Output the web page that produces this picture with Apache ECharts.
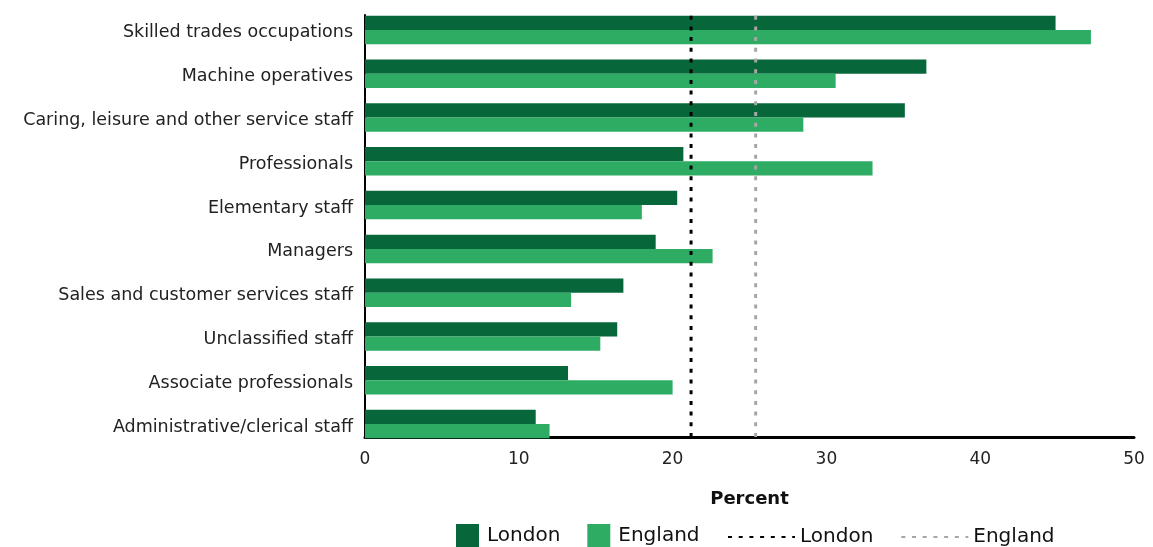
<!DOCTYPE html>
<html>
<head>
<meta charset="utf-8">
<script src="https://cdn.jsdelivr.net/npm/echarts@6/dist/echarts.min.js"></script>
<style>
html,body{margin:0;padding:0;background:#fff;}
#main{width:1153px;height:547px;}
</style>
</head>
<body>
<div id="main"></div>
<script>
const categories = [
  'Skilled trades occupations',
  'Machine operatives',
  'Caring, leisure and other service staff',
  'Professionals',
  'Elementary staff',
  'Managers',
  'Sales and customer services staff',
  'Unclassified staff',
  'Associate professionals',
  'Administrative/clerical staff'
];
const londonValues  = [44.9, 36.5, 35.1, 20.7, 20.3, 18.9, 16.8, 16.4, 13.2, 11.1];
const englandValues = [47.2, 30.6, 28.5, 33.0, 18.0, 22.6, 13.4, 15.3, 20.0, 12.0];
const londonAverage = 21.2;
const englandAverage = 25.4;
const xTicks = [0, 10, 20, 30, 40, 50];

const FONT = 'DejaVu Sans';
const DARK = '#07673a';
const LIGHT = '#2fac63';

const chart = echarts.init(document.getElementById('main'));
chart.setOption({
  animation: false,
  textStyle: { fontFamily: FONT },
  grid: [
    { left: 365, right: 19, top: 8, height: 438 },
    { left: 365, right: 19, top: 15, height: 422 }
  ],
  xAxis: [
    { gridIndex: 0, type: 'value', min: xTicks[0], max: xTicks[xTicks.length - 1], show: false },
    { gridIndex: 1, type: 'value', min: xTicks[0], max: xTicks[xTicks.length - 1], interval: 10,
      axisLine: { show: true, lineStyle: { color: '#000', width: 3 } },
      axisTick: { show: false },
      splitLine: { show: false },
      axisLabel: { fontSize: 17, color: '#222', margin: 14, fontFamily: FONT },
      name: 'Percent', nameLocation: 'middle', nameGap: 53,
      nameTextStyle: { fontSize: 18, fontWeight: 'bold', color: '#111', fontFamily: FONT }
    }
  ],
  yAxis: [
    { gridIndex: 0, type: 'category', data: categories, inverse: true,
      axisLine: { show: false }, axisTick: { show: false },
      axisLabel: {
        margin: 12,
        formatter: v => '{c|' + v + '}',
        rich: { c: { fontSize: 17.5, color: '#222', fontFamily: FONT, padding: [6, 0, 0, 0] } }
      }
    },
    { gridIndex: 1, type: 'value', min: 0, max: 1,
      axisLine: { show: true, lineStyle: { color: '#000', width: 2 } },
      axisTick: { show: false }, axisLabel: { show: false }, splitLine: { show: false }
    }
  ],
  legend: [
    { left: 456, top: 524, padding: 0, itemWidth: 23, itemHeight: 23, itemGap: 27, icon: 'rect',
      data: ['London', 'England'],
      textStyle: { fontSize: 20, color: '#111', fontFamily: FONT, padding: [0, 0, 0, 3] }
    },
    { left: 727, top: 527, padding: 0, itemWidth: 67, itemHeight: 23, itemGap: 27,
      data: ['London average', 'England average'],
      formatter: n => n.replace(' average', ''),
      itemStyle: { color: 'rgba(0,0,0,0)', opacity: 0, borderWidth: 0 },
      textStyle: { fontSize: 20, color: '#111', fontFamily: FONT }
    }
  ],
  series: [
    { name: 'London', type: 'bar', xAxisIndex: 0, yAxisIndex: 0, data: londonValues,
      itemStyle: { color: DARK }, barGap: '0%', barCategoryGap: '35%' },
    { name: 'England', type: 'bar', xAxisIndex: 0, yAxisIndex: 0, data: englandValues,
      itemStyle: { color: LIGHT }, barGap: '0%', barCategoryGap: '35%' },
    { name: 'London average', type: 'line', xAxisIndex: 1, yAxisIndex: 1,
      data: [[londonAverage, 0], [londonAverage, 1]], symbol: 'none', z: 5,
      lineStyle: { color: '#000', width: 3, type: [4, 6.7] }, itemStyle: { color: '#000' } },
    { name: 'England average', type: 'line', xAxisIndex: 1, yAxisIndex: 1,
      data: [[englandAverage, 0], [englandAverage, 1]], symbol: 'none', z: 5,
      lineStyle: { color: '#a6a6a6', width: 3, type: [4, 6.7] }, itemStyle: { color: '#a6a6a6' } }
  ]
});
</script>
</body>
</html>
